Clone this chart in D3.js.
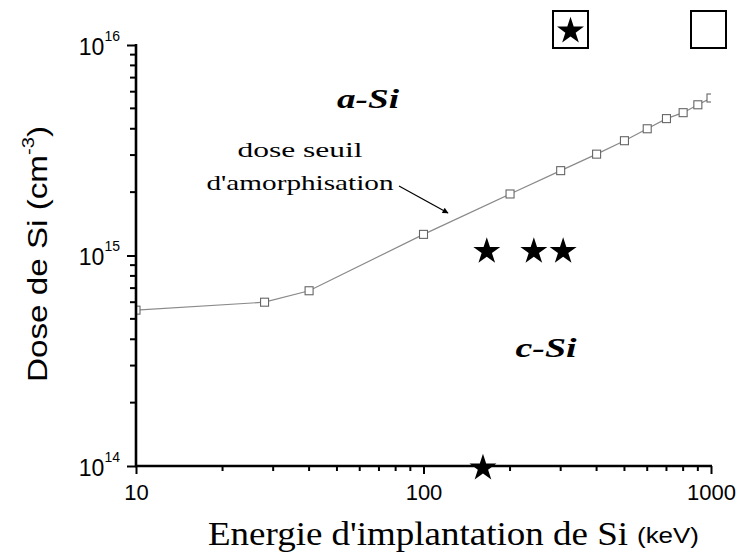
<!DOCTYPE html>
<html>
<head>
<meta charset="utf-8">
<script src="https://cdn.jsdelivr.net/npm/d3@7"></script>
<style>
  html, body { margin: 0; padding: 0; background: #fff; }
  svg { display: block; }
</style>
</head>
<body>
<svg id="chart" width="741" height="553"></svg>
<script>
// Amorphisation threshold dose vs implantation energy
const energies = [10, 28, 40, 100, 200, 300, 400, 500, 600, 700, 800, 900, 1000];
const doses = [5.5e14, 6.0e14, 6.8e14, 1.26e15, 1.96e15, 2.53e15, 3.03e15, 3.51e15, 4.0e15, 4.47e15, 4.77e15, 5.2e15, 5.6e15];

// Implanted samples (stars)
const starEnergies = [166, 242, 306, 161];
const starDoses = [1.07e15, 1.07e15, 1.07e15, 1e14];

const xTickValues = [10, 100, 1000];
const xTickLabels = ["10", "100", "1000"];
const yTickValues = [1e14, 1e15, 1e16];
const yTickExponents = ["14", "15", "16"];

const svg = d3.select("#chart");
const plotLeft = 136, plotRight = 711, plotTop = 45, plotBottom = 466;

const x = d3.scaleLog().domain([10, 1000]).range([plotLeft, plotRight]);
const y = d3.scaleLog().domain([1e14, 1e16]).range([plotBottom, plotTop]);

const minorX = [];
const minorY = [];
for (const d of [10, 100]) for (let k = 2; k <= 9; k++) minorX.push(k * d);
for (const d of [1e14, 1e15]) for (let k = 2; k <= 9; k++) minorY.push(k * d);

const defs = svg.append("defs");
defs.append("clipPath").attr("id", "plot-clip")
  .append("rect").attr("x", plotLeft).attr("y", 0).attr("width", plotRight - plotLeft).attr("height", plotBottom);

// threshold curve
const plot = svg.append("g").attr("clip-path", "url(#plot-clip)");
const pts = energies.map((e, i) => [e, doses[i]]);
plot.append("path")
  .datum(pts)
  .attr("fill", "none")
  .attr("stroke", "#8a8a8a")
  .attr("stroke-width", 1.2)
  .attr("d", d3.line().x(d => x(d[0])).y(d => y(d[1])));
plot.selectAll("rect.pt")
  .data(pts)
  .join("rect")
  .attr("class", "pt")
  .attr("x", d => x(d[0]) - 4)
  .attr("y", d => y(d[1]) - 4)
  .attr("width", 8)
  .attr("height", 8)
  .attr("fill", "#fff")
  .attr("stroke", "#666")
  .attr("stroke-width", 1.1);

// minor ticks
const ticks = svg.append("g").attr("stroke", "#000").attr("stroke-width", 2);
ticks.selectAll("line.mx").data(minorX).join("line").attr("class", "mx")
  .attr("x1", d => x(d)).attr("x2", d => x(d))
  .attr("y1", plotBottom).attr("y2", plotBottom + 5);
ticks.selectAll("line.my").data(minorY).join("line").attr("class", "my")
  .attr("x1", plotLeft - 6).attr("x2", plotLeft)
  .attr("y1", d => y(d)).attr("y2", d => y(d));

// major ticks and labels
const xMajor = d3.axisBottom(x).tickValues(xTickValues).tickSize(8).tickPadding(10)
  .tickFormat((d, i) => xTickLabels[i]);
const yMajor = d3.axisLeft(y).tickValues(yTickValues).tickSize(9).tickPadding(6).tickFormat(() => "");

function styleAxis(g) {
  g.select(".domain").remove();
  g.selectAll(".tick line").attr("stroke", "#000").attr("stroke-width", 2);
  g.selectAll(".tick text").attr("fill", "#000");
}
const gx = svg.append("g").attr("transform", `translate(0,${plotBottom})`).call(xMajor).call(styleAxis);
gx.selectAll(".tick text").attr("font-family", "Liberation Sans, Arial, sans-serif").attr("font-size", 22);
const gy = svg.append("g").attr("transform", `translate(${plotLeft},0)`).call(yMajor).call(styleAxis);
gy.selectAll(".tick").each(function(d, i) {
  const t = d3.select(this).select("text")
    .attr("x", -16).attr("dy", null).attr("y", 9)
    .attr("font-family", "Liberation Sans, Arial, sans-serif")
    .attr("font-size", 23);
  t.append("tspan").text("10");
  t.append("tspan").attr("font-size", 14).attr("dy", -14).text(yTickExponents[i]);
});

// axis lines
svg.append("line").attr("x1", plotLeft).attr("x2", plotLeft).attr("y1", plotTop - 1).attr("y2", plotBottom + 1)
  .attr("stroke", "#000").attr("stroke-width", 2.6);
svg.append("line").attr("x1", plotLeft - 1).attr("x2", plotRight + 1).attr("y1", plotBottom).attr("y2", plotBottom)
  .attr("stroke", "#000").attr("stroke-width", 2.6);

// stars
const star = d3.symbol().type(d3.symbolStar).size(226);
svg.selectAll("path.star")
  .data(starEnergies.map((e, i) => [e, starDoses[i]]))
  .join("path")
  .attr("class", "star")
  .attr("transform", d => `translate(${x(d[0])},${y(d[1]) + 2})`)
  .attr("d", star)
  .attr("fill", "#000");

// key boxes at top
svg.append("rect").attr("x", 553).attr("y", 11).attr("width", 35).attr("height", 37)
  .attr("fill", "#fff").attr("stroke", "#000").attr("stroke-width", 2);
svg.append("path").attr("transform", "translate(570.5,31)").attr("d", star).attr("fill", "#000");
svg.append("rect").attr("x", 691).attr("y", 11).attr("width", 35).attr("height", 37)
  .attr("fill", "#fff").attr("stroke", "#000").attr("stroke-width", 2);

// region labels
const serif = "Liberation Serif, Times New Roman, serif";
svg.append("text").attr("x", 368).attr("y", 108).attr("text-anchor", "middle")
  .attr("font-family", serif).attr("font-weight", "bold").attr("font-style", "italic")
  .attr("font-size", 28).attr("textLength", 62).attr("lengthAdjust", "spacingAndGlyphs")
  .text("a-Si");
svg.append("text").attr("x", 546).attr("y", 357).attr("text-anchor", "middle")
  .attr("font-family", serif).attr("font-weight", "bold").attr("font-style", "italic")
  .attr("font-size", 28).attr("textLength", 61).attr("lengthAdjust", "spacingAndGlyphs")
  .text("c-Si");

// annotation
svg.append("text").attr("x", 300).attr("y", 157).attr("text-anchor", "middle")
  .attr("font-family", serif).attr("font-size", 22)
  .attr("textLength", 125).attr("lengthAdjust", "spacingAndGlyphs")
  .text("dose seuil");
svg.append("text").attr("x", 300).attr("y", 190).attr("text-anchor", "middle")
  .attr("font-family", serif).attr("font-size", 22)
  .attr("textLength", 187).attr("lengthAdjust", "spacingAndGlyphs")
  .text("d'amorphisation");
defs.append("marker").attr("id", "arrow")
  .attr("viewBox", "0 0 10 10").attr("refX", 9).attr("refY", 5)
  .attr("markerWidth", 10).attr("markerHeight", 6).attr("orient", "auto")
  .attr("markerUnits", "userSpaceOnUse")
  .append("path").attr("d", "M0,0 L10,5 L0,10 Z").attr("fill", "#000");
svg.append("line").attr("x1", 399).attr("y1", 186).attr("x2", 448).attr("y2", 213)
  .attr("stroke", "#000").attr("stroke-width", 1.2).attr("marker-end", "url(#arrow)");

// axis titles
svg.append("text").attr("transform", "translate(47,254) rotate(-90)").attr("text-anchor", "middle")
  .attr("font-family", "Liberation Sans, Arial, sans-serif").attr("font-size", 28)
  .attr("textLength", 256).attr("lengthAdjust", "spacingAndGlyphs")
  .call(t => {
    t.append("tspan").text("Dose de Si (cm");
    t.append("tspan").attr("font-size", 17).attr("dy", -13).text("-3");
    t.append("tspan").attr("dy", 13).text(")");
  });
svg.append("text").attr("x", 208).attr("y", 545)
  .attr("font-family", serif).attr("font-size", 33)
  .attr("textLength", 420).attr("lengthAdjust", "spacingAndGlyphs")
  .text("Energie d'implantation de Si");
svg.append("text").attr("x", 637).attr("y", 543)
  .attr("font-family", "Liberation Sans, Arial, sans-serif").attr("font-size", 22)
  .attr("textLength", 62).attr("lengthAdjust", "spacingAndGlyphs")
  .text("(keV)");
</script>
</body>
</html>
